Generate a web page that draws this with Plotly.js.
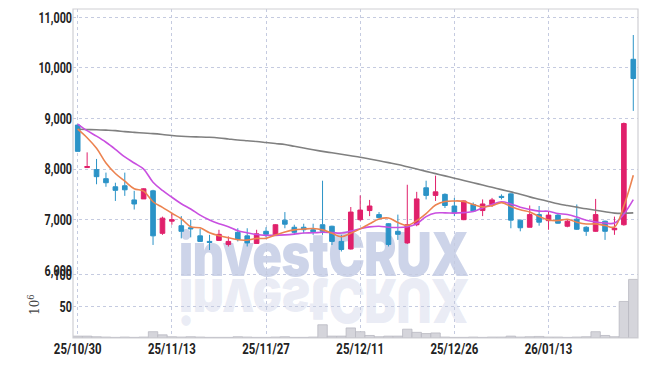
<!DOCTYPE html>
<html>
<head>
<meta charset="utf-8">
<script src="https://cdn.plot.ly/plotly-3.0.1.min.js"></script>
<style>
  html, body { margin:0; padding:0; background:#ffffff; }
  #wrap { position:relative; width:647px; height:366px; overflow:hidden; }
  .wm { position:absolute; left:0; width:647px; text-align:center; white-space:nowrap; z-index:0; }
  .wm span { display:inline-block; font-family:Inter,Roboto,"DejaVu Sans",sans-serif; font-weight:900; font-size:60px; line-height:62px; letter-spacing:-1px; }
  #wm { top:223px; }
  #wm span { color:rgba(160,172,212,0.52); }
  #wmr { top:270px; }
  #wmr span { color:rgba(160,172,212,0.22); }
  #chart { position:absolute; left:0; top:0; width:647px; height:366px; z-index:1; }
</style>
</head>
<body>
<div id="wrap">
  <div class="wm" id="wm"><span>investCRUX</span></div>
  <div class="wm" id="wmr"><span>investCRUX</span></div>
  <div id="chart"></div>
</div>
<script>
const dates = ["25/10/30","25/10/31","25/11/03","25/11/04","25/11/05","25/11/06","25/11/07","25/11/10","25/11/11","25/11/12",
  "25/11/13","25/11/14","25/11/17","25/11/18","25/11/19","25/11/20","25/11/21","25/11/24","25/11/25","25/11/26",
  "25/11/27","25/11/28","25/12/01","25/12/02","25/12/03","25/12/04","25/12/05","25/12/08","25/12/09","25/12/10",
  "25/12/11","25/12/12","25/12/15","25/12/16","25/12/17","25/12/18","25/12/19","25/12/22","25/12/23","25/12/24",
  "25/12/26","25/12/29","25/12/30","26/01/02","26/01/05","26/01/06","26/01/07","26/01/08","26/01/09","26/01/12",
  "26/01/13","26/01/14","26/01/15","26/01/16","26/01/19","26/01/20","26/01/21","26/01/22","26/01/23","26/01/26"];

const openP  = [8870,8030,7990,7810,7650,7670,7390,7410,7570,6730, 6970,6880,6840,6680,6570,6590,6510,6750,6680,6530,
  6770,6690,6990,6850,6850,6800,6900,6870,6570,6420, 7000,7180,7100,6920,6770,6540,6900,7630,7480,7500,
  7270,7000,7300,7180,7300,7460,7510,6990,6850,7100, 6980,7090,6870,7010,6850,6770,6970,6800,6900,10170];
const highP  = [8880,8330,8200,7930,7730,7930,7570,7620,7590,7060, 7120,7070,7000,6820,6700,6800,6670,6830,6830,6800,
  6850,6910,7150,6900,6920,6920,7770,6880,6700,7250, 7480,7390,7150,6930,7100,7690,7550,7770,7870,7520,
  7430,7380,7340,7400,7430,7500,7520,7000,7280,7270, 7170,7110,7010,7300,6870,7410,6980,7060,8920,10650];
const lowP   = [8350,8020,7700,7650,7370,7470,7200,7410,6500,6700, 6900,6630,6650,6560,6400,6580,6470,6570,6470,6530,
  6650,6680,6830,6700,6730,6700,6700,6500,6370,6410, 6970,7070,7030,6470,6600,6520,6870,7400,7370,7230,
  7070,6990,7150,7070,7250,7400,6830,6770,6850,6880, 6800,6920,6850,6800,6680,6760,6600,6700,6880,9150];
const closeP = [8350,8050,7850,7730,7580,7590,7310,7610,6680,7030, 7000,6770,6820,6570,6550,6710,6570,6610,6540,6720,
  6710,6900,6910,6750,6800,6760,6770,6570,6410,7150, 7190,7270,7040,6510,6710,6900,7410,7480,7550,7280,
  7130,7370,7170,7310,7390,7440,6990,6840,7100,6950, 7090,6930,6970,6810,6770,7100,6770,6830,8900,9790];

const ma5  = [8790,8620,8410,8120,7912,7760,7612,7564,7354,7244, 7126,7018,6860,6838,6742,6684,6644,6602,6596,6630,
  6630,6696,6756,6798,6814,6824,6798,6730,6662,6732, 6818,6918,7012,7032,6944,6886,6980,7120,7290,7360,
  7370,7362,7300,7252,7274,7336,7260,7194,7152,7064, 6994,6982,7008,6950,6914,6916,6884,6856,7274,7878];
const ma10 = [8890,8760,8650,8530,8390,8240,8120,8000,7740,7578, 7443,7315,7212,7090,6993,6920,6860,6780,6740,6705,
  6690,6690,6700,6715,6735,6740,6750,6743,6735,6773, 6821,6858,6871,6850,6845,6860,6920,7060,7130,7134,
  7130,7140,7160,7231,7299,7353,7311,7247,7202,7169, 7165,7121,7101,7051,6989,6955,6933,6932,7112,7396];
const ma60 = [8786,8782,8778,8770,8760,8740,8725,8712,8700,8684, 8665,8650,8640,8635,8628,8615,8595,8575,8560,8545,
  8525,8505,8485,8450,8416,8382,8350,8321,8292,8263, 8234,8199,8163,8127,8091,8045,8000,7955,7910,7865,
  7820,7775,7730,7684,7639,7594,7549,7504,7450,7405, 7360,7315,7280,7247,7214,7185,7158,7130,7125,7135];

const volume = [3,3,2,1.5,1,1.5,1,1.5,10,5, 2,1.5,2,1.5,1,1,1,2,1.5,1,
  1,1.5,2,1,1,1.5,21,3,3,16, 10,4,2,3,3,14,9,7,8,1.5,
  1,1,1.5,1,1.5,1.5,3,1.5,2,2.5, 1.5,1.5,1,1.5,2,10,4,2,58,93];

const tickDates = ["25/10/30","25/11/13","25/11/27","25/12/11","25/12/26","26/01/13"];
const priceTicks = [6000,7000,8000,9000,10000,11000];
const volTicks = [50,100];

const UP = '#e0206b', DOWN = '#2b93c7';
const gridC = '#c5cbe0';
const tickFont = {family:'Roboto, "DejaVu Sans", sans-serif', size:15, color:'#222222', weight:700};

const traces = [
  {type:'bar', x:dates, y:volume, xaxis:'x', yaxis:'y2',
   marker:{color:'#d5d5db', line:{color:'#b9b9c2', width:0.8}}, hoverinfo:'skip', showlegend:false},
  {type:'candlestick', x:dates, open:openP, high:highP, low:lowP, close:closeP, xaxis:'x', yaxis:'y',
   increasing:{line:{color:UP, width:1}, fillcolor:UP},
   decreasing:{line:{color:DOWN, width:1}, fillcolor:DOWN},
   showlegend:false},
  {type:'scatter', mode:'lines', x:dates, y:ma60, line:{color:'#808080', width:1.6, shape:'spline'}, yaxis:'y', showlegend:false},
  {type:'scatter', mode:'lines', x:dates, y:ma10, line:{color:'#c94fe0', width:1.6, shape:'spline'}, yaxis:'y', showlegend:false},
  {type:'scatter', mode:'lines', x:dates, y:ma5,  line:{color:'#ec8350', width:1.6, shape:'spline'}, yaxis:'y', showlegend:false}
];

const layout = {
  width:647, height:366,
  margin:{l:73, r:9, t:9, b:28},
  paper_bgcolor:'rgba(0,0,0,0)', plot_bgcolor:'rgba(0,0,0,0)',
  showlegend:false, bargap:0,
  xaxis:{type:'category', anchor:'y2', range:[-0.5, 59.5], rangeslider:{visible:false},
    tickmode:'array', tickvals:tickDates, ticktext:tickDates,
    tickfont:tickFont,
    showgrid:true, gridcolor:gridC, griddash:'dot', gridwidth:1,
    showline:false, zeroline:false, ticks:''},
  yaxis:{domain:[0.205, 1], range:[5994, 11164], tickmode:'array', tickvals:priceTicks,
    tickformat:',', tickfont:tickFont, showgrid:true, gridcolor:gridC, griddash:'dot', gridwidth:1,
    zeroline:false, showline:false, ticks:''},
  yaxis2:{domain:[0, 0.203], range:[0, 106], tickmode:'array', tickvals:volTicks,
    tickfont:tickFont, showgrid:true, gridcolor:gridC, griddash:'dot', gridwidth:1,
    zeroline:false, showline:false, ticks:'',
    title:{text:'10<sup>6</sup>', font:{family:'"DejaVu Serif",serif', size:12, color:'#444'}, standoff:3}},
  shapes:[
    {type:'rect', xref:'paper', yref:'paper', x0:0, x1:1, y0:0, y1:1, line:{color:'#cfcfd4', width:1.2}, layer:'above'}
  ]
};

function condense(sel, sx) {
  document.querySelectorAll(sel).forEach(function (t) {
    const ax = parseFloat(t.getAttribute('x')) || 0;
    const ay = parseFloat(t.getAttribute('y')) || 0;
    const tr = t.getAttribute('transform') || '';
    t.setAttribute('transform', tr + ' translate(' + ax + ',' + ay + ') scale(' + sx + ',1) translate(' + (-ax) + ',' + (-ay) + ')');
  });
}

// fit watermark text to its width in the reference
document.querySelectorAll('.wm span').forEach(function (s, i) {
  const w = s.getBoundingClientRect().width;
  const k = 290 / w;
  s.style.transform = (i === 1 ? 'scale(' + k + ',-1)' : 'scale(' + k + ',1)');
});

Plotly.newPlot('chart', traces, layout, {displayModeBar:false, staticPlot:true}).then(function () {
  condense('.ytick text', 0.72);
  condense('.y2tick text', 0.72);
  condense('.xtick text', 0.76);
});
</script>
</body>
</html>
